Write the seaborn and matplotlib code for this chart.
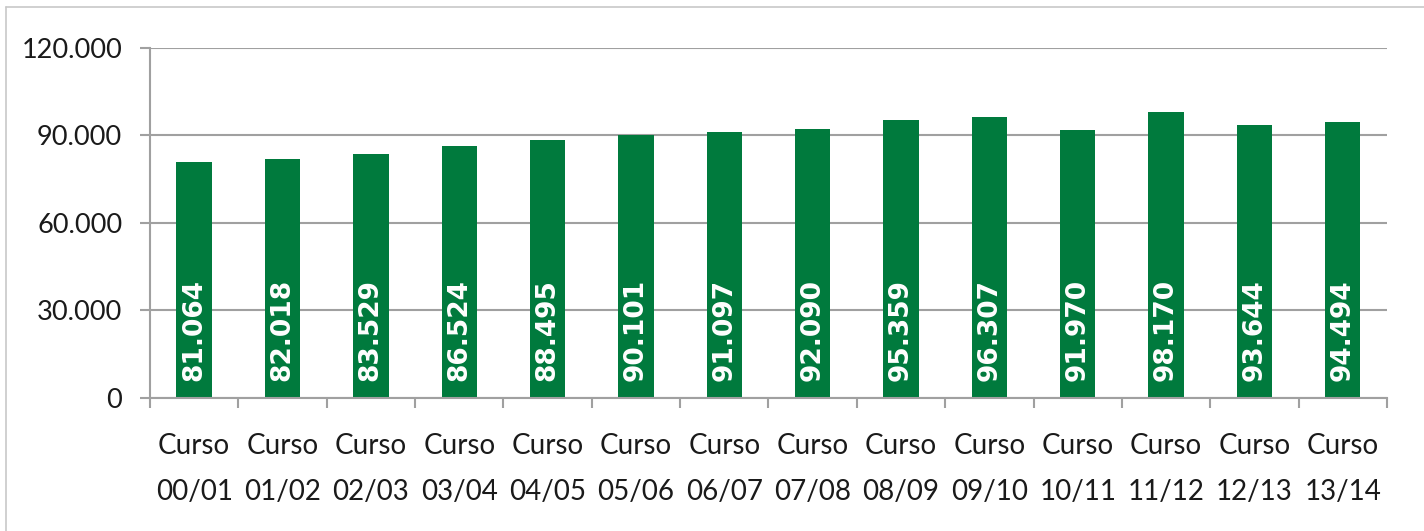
import matplotlib
matplotlib.use("Agg")
import matplotlib.pyplot as plt
import matplotlib.ticker as mticker
from matplotlib.lines import Line2D
import seaborn as sns
import pandas as pd

categories = ["Curso\n00/01", "Curso\n01/02", "Curso\n02/03", "Curso\n03/04", "Curso\n04/05",
              "Curso\n05/06", "Curso\n06/07", "Curso\n07/08", "Curso\n08/09", "Curso\n09/10",
              "Curso\n10/11", "Curso\n11/12", "Curso\n12/13", "Curso\n13/14"]
values = [81064, 82018, 83529, 86524, 88495, 90101, 91097, 92090, 95359, 96307,
          91970, 98170, 93644, 94494]
y_ticks = [0, 30000, 60000, 90000, 120000]

sns.set_style("white")
plt.rcParams['font.family'] = ['Lato', 'DejaVu Sans']

df = pd.DataFrame({"curso": categories, "alumnos": values})

fig = plt.figure(figsize=(14.24, 5.31), dpi=100)
ax = fig.add_axes([0.1053, 0.2505, 0.974 - 0.1053, 0.9096 - 0.2505])

green = "#007A3D"
sns.barplot(data=df, x="curso", y="alumnos", color=green, width=0.4, ax=ax,
            saturation=1, edgecolor="none")

ax.set_ylim(0, 120000)
ax.set_xlim(-0.5, len(categories) - 0.5)
ax.set_yticks(y_ticks)
ax.yaxis.set_major_formatter(mticker.FuncFormatter(lambda v, p: f"{int(v):,}".replace(",", ".")))
ax.grid(axis="y", color="#A0A0A0", linewidth=1.5)
ax.set_axisbelow(True)

for s in ["top", "right"]:
    ax.spines[s].set_visible(False)
for s in ["left", "bottom"]:
    ax.spines[s].set_color("#A0A0A0")
    ax.spines[s].set_linewidth(1.5)

ax.set_xlabel("")
ax.set_ylabel("")
ax.tick_params(axis="y", which="major", direction="out", length=7, width=1.5,
               color="#A0A0A0", labelsize=19.5, pad=13, labelcolor="#1a1a1a", left=True)
ax.set_xticks(range(len(categories)))
ax.set_xticklabels(categories, linespacing=1.95)
ax.set_xticks([i - 0.5 for i in range(len(categories) + 1)], minor=True)
ax.tick_params(axis="x", which="major", length=0, labelsize=20, pad=25, labelcolor="#1a1a1a")
ax.tick_params(axis="x", which="minor", direction="out", length=7, width=1.5,
               color="#A0A0A0", bottom=True)

for i, v in enumerate(values):
    ax.annotate(f"{v:,}".replace(",", "."), xy=(i, 0), xytext=(0, 12),
                textcoords="offset points", rotation=90, ha="center", va="bottom",
                color="white", fontsize=19, fontweight="bold", family="DejaVu Sans")

fig.add_artist(Line2D([6 / 1424, 6 / 1424], [0, 1 - 7 / 531], transform=fig.transFigure,
                      color="#C8C8C8", linewidth=1.2))
fig.add_artist(Line2D([6 / 1424, 1], [1 - 7 / 531, 1 - 7 / 531], transform=fig.transFigure,
                      color="#C8C8C8", linewidth=1.2))

fig.savefig("out.png", dpi=100, facecolor="white")
